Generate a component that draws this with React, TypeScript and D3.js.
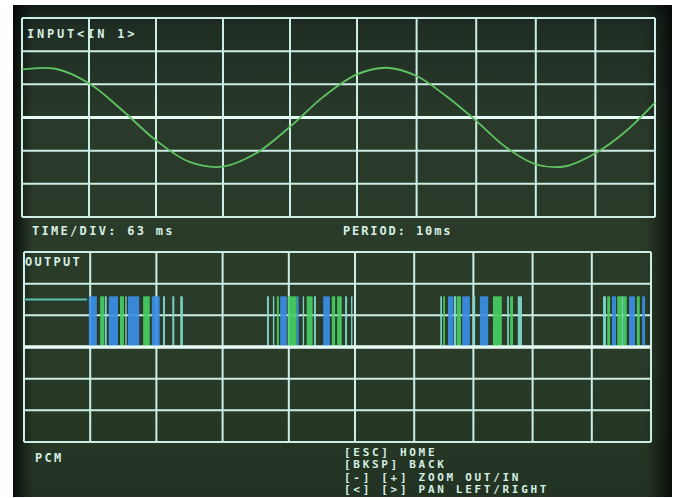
import React from "react";
import * as d3 from "d3";

// ---- data ----
// input waveform: time in divisions (0..10), amplitude in divisions
const inputTime = [0, 0.5, 1, 1.5, 2, 2.5, 3, 3.5, 4, 4.5, 5, 5.5, 6, 6.5, 7, 7.5, 8, 8.5, 9, 9.5, 10];
const inputValue = [1.45, 1.47, 1.03, 0.21, -0.69, -1.34, -1.48, -1.07, -0.28, 0.63, 1.3, 1.5, 1.25, 0.64, -0.1, -0.9, -1.41, -1.47, -1.08, -0.43, 0.45];

// PCM output pulses: start / end (divisions), colour key
const pulseStart = [
  0.98, 1.15, 1.22, 1.28, 1.45, 1.53, 1.57, 1.8, 1.93, 2.1, 2.24, 2.36,
  3.67, 3.76, 3.82, 3.87, 3.99, 4.12, 4.21, 4.27, 4.38, 4.52, 4.65, 4.73, 4.85, 4.94,
  6.44, 6.49, 6.57, 6.67, 6.72, 6.81, 6.99, 7.11, 7.33, 7.57, 7.62, 7.75,
  9.19, 9.26, 9.34, 9.43, 9.51, 9.53, 9.63, 9.76, 9.85,
];
const pulseEnd = [
  1.1, 1.21, 1.25, 1.42, 1.51, 1.55, 1.74, 1.9, 2.05, 2.13, 2.27, 2.4,
  3.7, 3.78, 3.85, 3.97, 4.12, 4.15, 4.23, 4.36, 4.41, 4.62, 4.7, 4.8, 4.88, 4.96,
  6.47, 6.52, 6.66, 6.71, 6.79, 6.94, 7.03, 7.25, 7.48, 7.6, 7.67, 7.82,
  9.24, 9.31, 9.41, 9.51, 9.53, 9.59, 9.73, 9.81, 9.9,
];
const pulseKind = [
  "b", "g", "c", "b", "g", "c", "b", "g", "b", "c", "c", "c",
  "c", "c", "g", "b", "g", "b", "c", "g", "c", "b", "g", "g", "c", "c",
  "c", "g", "b", "c", "g", "b", "c", "b", "g", "c", "g", "c",
  "c", "g", "b", "g", "c", "g", "b", "g", "b",
];
const pulseHigh = 1.6;
const levelMarkEnd = 0.95;
const levelMarkValue = 1.5;

const xDivs = d3.range(0, 11);
const yDivs = d3.range(-3, 4);

const topLabel = "INPUT<IN 1>";
const timeLabel = "TIME/DIV: 63 ms";
const periodLabel = "PERIOD: 10ms";
const bottomLabel = "OUTPUT";
const modeLabel = "PCM";
const menuLines = ["[ESC] HOME", "[BKSP] BACK", "[-] [+] ZOOM OUT/IN", "[<] [>] PAN LEFT/RIGHT"];

// ---- style ----
const W = 678;
const H = 498;
const gridColor = "#cdeee6";
const textColor = "#d6efe4";
const traceColor = "#5fc265";
const pulseColors: Record<string, string> = { b: "#3b8fe6", g: "#45cf62", c: "#7fdccf" };
const font = "'DejaVu Sans Mono', monospace";

function Panel({
  x,
  y,
}: {
  x: d3.ScaleLinear<number, number>;
  y: d3.ScaleLinear<number, number>;
}) {
  const [x0, x1] = [x(0), x(10)];
  const [y0, y1] = [y(3), y(-3)];
  return (
    <g>
      {xDivs.map((d) => (
        <line key={"v" + d} x1={x(d)} x2={x(d)} y1={y0} y2={y1} stroke={gridColor} strokeWidth={2} />
      ))}
      {yDivs.map((d) => (
        <line
          key={"h" + d}
          x1={x0}
          x2={x1}
          y1={y(d)}
          y2={y(d)}
          stroke={d === 0 ? "#e6fbf6" : gridColor}
          strokeWidth={d === 0 ? 3.2 : 2}
        />
      ))}
    </g>
  );
}

export default function App() {
  const xTop = d3.scaleLinear().domain([0, 5, 10]).range([22, 357, 655]);
  const yTop = d3.scaleLinear().domain([-3, 3]).range([217, 18]);
  const xBot = d3.scaleLinear().domain([0, 5, 10]).range([24, 355, 651]);
  const yBot = d3.scaleLinear().domain([-3, 3]).range([442, 252]);

  const line = d3
    .line<number>()
    .x((_, i) => xTop(inputTime[i]))
    .y((d) => yTop(d))
    .curve(d3.curveCatmullRom.alpha(0.5));

  const textProps = {
    fill: textColor,
    fontFamily: font,
    fontWeight: 700,
    fontSize: 12,
    letterSpacing: 2.3,
  };

  return (
    <svg
      width={W}
      height={H}
      style={{ position: "absolute", left: 0, top: 0, display: "block", background: "#ffffff" }}
    >
      <defs>
        <linearGradient id="scr" x1="0" y1="0" x2="0" y2="1">
          <stop offset="0" stopColor="#141d17" />
          <stop offset="0.04" stopColor="#1f2d23" />
          <stop offset="0.25" stopColor="#293a2a" />
          <stop offset="0.7" stopColor="#2a3b29" />
          <stop offset="1" stopColor="#233323" />
        </linearGradient>
        <linearGradient id="scrH" x1="0" y1="0" x2="1" y2="0">
          <stop offset="0" stopColor="#050806" stopOpacity="0.95" />
          <stop offset="0.012" stopColor="#050806" stopOpacity="0.5" />
          <stop offset="0.03" stopColor="#050806" stopOpacity="0" />
          <stop offset="0.96" stopColor="#050806" stopOpacity="0" />
          <stop offset="0.99" stopColor="#050806" stopOpacity="0.6" />
          <stop offset="1" stopColor="#050806" stopOpacity="0.9" />
        </linearGradient>
      </defs>
      <rect x={13} y={5} width={659} height={492} fill="url(#scr)" />
      <rect x={13} y={5} width={659} height={492} fill="url(#scrH)" />

      <Panel x={xTop} y={yTop} />
      <Panel x={xBot} y={yBot} />

      {/* input trace */}
      <path d={line(inputValue) || ""} fill="none" stroke={traceColor} strokeWidth={1.8} />

      {/* PCM pulses */}
      {pulseStart.map((s, i) => (
        <rect
          key={"p" + i}
          x={xBot(s)}
          y={yBot(pulseHigh)}
          width={Math.max(1.4, xBot(pulseEnd[i]) - xBot(s))}
          height={yBot(0) - yBot(pulseHigh)}
          fill={pulseColors[pulseKind[i]]}
          opacity={0.92}
        />
      ))}
      <line
        x1={xBot(0)}
        x2={xBot(levelMarkEnd)}
        y1={yBot(levelMarkValue)}
        y2={yBot(levelMarkValue)}
        stroke="#5cc4b4"
        strokeWidth={2}
      />
      {/* redraw centre line over pulses */}
      <line x1={xBot(0)} x2={xBot(10)} y1={yBot(0)} y2={yBot(0)} stroke="#e6fbf6" strokeWidth={3.2} />

      {/* texts */}
      <text x={27} y={38} {...textProps} letterSpacing={2.8}>
        {topLabel}
      </text>
      <text x={32} y={235} {...textProps}>
        {timeLabel}
      </text>
      <text x={343} y={235} {...textProps} letterSpacing={1.9}>
        {periodLabel}
      </text>
      <text x={25} y={266} {...textProps}>
        {bottomLabel}
      </text>
      <text x={35} y={462} {...textProps}>
        {modeLabel}
      </text>
      {menuLines.map((m, i) => (
        <text key={m} x={344} y={456 + i * 12.4} {...textProps} fontSize={11} letterSpacing={2.7}>
          {m}
        </text>
      ))}
    </svg>
  );
}
